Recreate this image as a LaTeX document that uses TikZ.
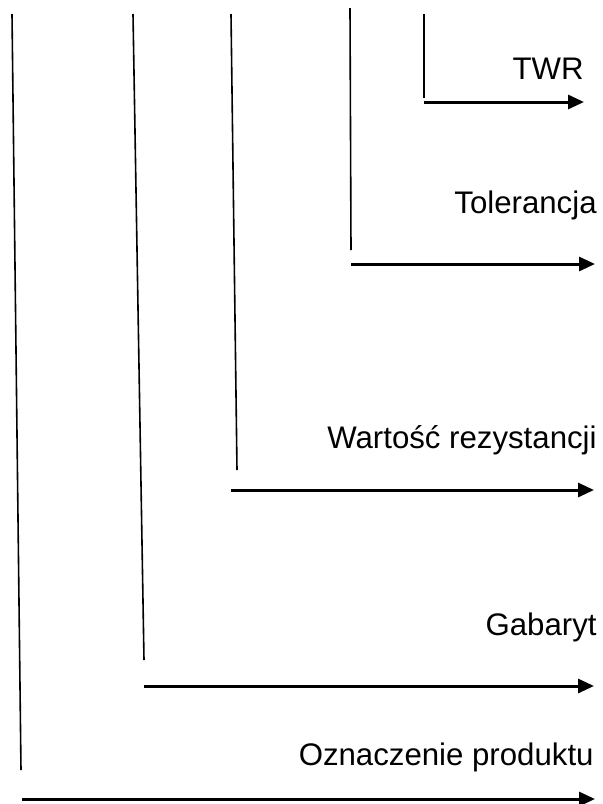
\documentclass[tikz,border=0pt]{standalone}
\usepackage{fontspec}
\setmainfont{Liberation Sans}
\usetikzlibrary{arrows.meta}

\begin{document}
\begin{tikzpicture}[
  x=0.5pt, y=-0.5pt,
  lead/.style = {line width=0.8pt},
  arrow/.style = {line width=1.5pt, -{Triangle[length=8pt, width=7pt]}},
  label/.style = {anchor=base east, inner sep=0pt, font=\fontsize{15.6}{18}\selectfont}
]
\useasboundingbox (0,0) rectangle (603,804);

% ======================================================
% LEADER LINES
% ======================================================
\coordinate (p1top) at (12,14);   \coordinate (p1bot) at (21,770);
\coordinate (p2top) at (133,14);  \coordinate (p2bot) at (144,660);
\coordinate (p3top) at (231,14);  \coordinate (p3bot) at (237,470);
\coordinate (p4top) at (350,8);   \coordinate (p4bot) at (351,250);
\coordinate (p5top) at (424,14);  \coordinate (p5bot) at (424,98);

\draw[lead] (p1top) -- (p1bot);
\draw[lead] (p2top) -- (p2bot);
\draw[lead] (p3top) -- (p3bot);
\draw[lead] (p4top) -- (p4bot);
\draw[lead] (p5top) -- (p5bot);

% ---- Arrows ----
\coordinate (a1) at (22,799);   \coordinate (e1) at (595,799);
\coordinate (a2) at (144,686);  \coordinate (e2) at (594,686);
\coordinate (a3) at (231,490);  \coordinate (e3) at (594,490);
\coordinate (a4) at (351,264);  \coordinate (e4) at (595,264);
\coordinate (a5) at (424,102);  \coordinate (e5) at (584,102);

\draw[arrow] (a1) -- (e1);
\draw[arrow] (a2) -- (e2);
\draw[arrow] (a3) -- (e3);
\draw[arrow] (a4) -- (e4);
\draw[arrow] (a5) -- (e5);

% ======================================================
% LABELS
% ======================================================
\node[label] (twr) at (584,79) {TWR};
\node[label] (tol) at (597,213) {Tolerancja};
\node[label] (wart) at (597,448) {Wartość rezystancji};
\node[label] (gab) at (597,635) {Gabaryt};
\node[label] (ozn) at (594,765) {Oznaczenie produktu};

\end{tikzpicture}
\end{document}
